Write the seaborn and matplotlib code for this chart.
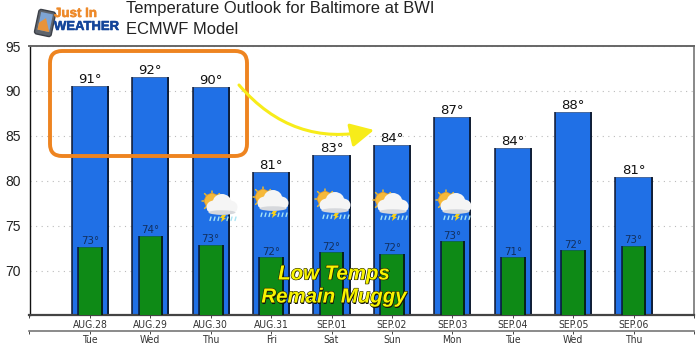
import matplotlib
matplotlib.use('Agg')
import matplotlib.pyplot as plt
import matplotlib.patheffects as pe
from matplotlib.patches import Circle, Ellipse, FancyArrowPatch, FancyBboxPatch, Polygon
from matplotlib.transforms import Affine2D
import numpy as np
import pandas as pd
import seaborn as sns

dates = ['AUG.28', 'AUG.29', 'AUG.30', 'AUG.31', 'SEP.01', 'SEP.02', 'SEP.03', 'SEP.04', 'SEP.05', 'SEP.06']
weekdays = ['Tue', 'Wed', 'Thu', 'Fri', 'Sat', 'Sun', 'Mon', 'Tue', 'Wed', 'Thu']
highs = [90.55, 91.6, 90.4, 81.0, 82.9, 84.0, 87.1, 83.7, 87.7, 80.4]
lows = [72.7, 73.9, 72.9, 71.5, 72.05, 71.9, 73.3, 71.5, 72.3, 72.8]
high_labels = ['91°', '92°', '90°', '81°', '83°', '84°', '87°', '84°', '88°', '81°']
low_labels = ['73°', '74°', '73°', '72°', '72°', '72°', '73°', '71°', '72°', '73°']
# cloud centres of the weather icons, in pixels
icons = [(222, 206), (273, 202), (335, 204), (393, 205), (456, 205)]

W, H = 700, 352
L, R, T, B = 29.5, 694, 46, 315

sns.set_theme(style='white')
plt.rcParams['font.family'] = ['Liberation Sans', 'DejaVu Sans']

df = pd.DataFrame({'date': dates, 'high': highs, 'low': lows})

fig = plt.figure(figsize=(7, 3.52), dpi=100, facecolor='white')
ax = fig.add_axes([L / W, 1 - B / H, (R - L) / W, (B - T) / H])
sns.barplot(data=df, x='date', y='high', color='#2070e6', saturation=1, width=0.6,
            edgecolor='#12305f', linewidth=0.4, ax=ax, zorder=2)
sns.barplot(data=df, x='date', y='low', color='#0e8a16', saturation=1, width=0.39,
            edgecolor='#0b5a20', linewidth=0.4, ax=ax, zorder=3)
ax.set_xlabel('')
ax.set_ylabel('')

# dark sides on the bars
for cont, z in zip(ax.containers, (2.5, 3.5)):
    for p in cont:
        x0 = p.get_x()
        x1 = x0 + p.get_width()
        top = p.get_height()
        ax.plot([x0, x0], [65.1, top], color='#0a1838', lw=1.1, zorder=z, solid_capstyle='butt')
        ax.plot([x1, x1], [65.1, top], color='#050a14', lw=1.1, zorder=z, solid_capstyle='butt')
ax.set_xlim(-1, 10)
ax.set_ylim(65.1, 95)

ax.bar_label(ax.containers[0], labels=high_labels, padding=0, fontsize=9.5,
             color='#111111', family='DejaVu Sans', zorder=5)
ax.bar_label(ax.containers[1], labels=low_labels, padding=0.5, fontsize=7.4,
             color='#12305f', family='DejaVu Sans', zorder=5)

ax.set_yticks([70, 75, 80, 85, 90, 95])
ax.tick_params(axis='y', left=False, length=0, pad=6.5, labelsize=10, labelcolor='#222222')
ax.yaxis.grid(True, linestyle=(0, (1, 4)), color='#bbbbbb', linewidth=0.8, zorder=0)
ax.set_axisbelow(True)

ax.set_xticks(np.arange(-1, 11))
ax.set_xticklabels([''] + dates + [''], family='DejaVu Sans', stretch='condensed', fontsize=7.5, color='#333333')
ax.tick_params(axis='x', bottom=True, length=2.5, width=0.7, color='#444444', pad=0.8)

ax.spines['left'].set(color='#111111', linewidth=1.0)
ax.spines['bottom'].set(color='#444444', linewidth=1.6)
ax.spines['top'].set(color='#666666', linewidth=1.4)
ax.spines['right'].set(color='#888888', linewidth=1.4)

sec = ax.secondary_xaxis(-(331 - B) / (B - T))
sec.set_xticks(np.arange(-1, 11))
sec.set_xticklabels([''] + weekdays + [''], family='DejaVu Sans', stretch='condensed', fontsize=7.5, color='#333333')
sec.tick_params(axis='x', length=2.5, width=0.7, color='#444444', pad=0.3)
sec.spines['bottom'].set(color='#777777', linewidth=1.2)

# overlay in pixel coordinates for the annotations drawn on top of the chart
ov = fig.add_axes([0, 0, 1, 1], facecolor='none')
ov.set_xlim(0, W)
ov.set_ylim(H, 0)
ov.axis('off')

ov.text(126, 9, 'Temperature Outlook for Baltimore at BWI', fontsize=11.9, color='#222222', va='center')
ov.text(126, 29, 'ECMWF Model', fontsize=11.9, color='#222222', va='center')

# logo
tilt = Affine2D().rotate_deg_around(45, 23, 12) + ov.transData
ov.add_patch(FancyBboxPatch((37, 11), 16, 24, boxstyle='round,pad=0.5,rounding_size=2.5', fc='#5f646c', ec='#3c4048',
                            lw=1, transform=tilt))
ov.add_patch(Polygon([[39, 13], [51, 13], [51, 31], [39, 31]], fc='#7ea4d4', ec='none', transform=tilt))
ov.add_patch(Polygon([[39, 31], [39, 24], [45, 18], [51, 31]], fc='#e8933a', ec='none', transform=tilt))
ov.text(54, 14, 'Just In', fontsize=9.6, fontweight='bold', color='#ee8a2a', va='center',
        path_effects=[pe.withStroke(linewidth=0.4, foreground='#ee8a2a')])
ov.text(54, 27, 'WEATHER', fontsize=9.4, fontweight='bold', color='#14459a', va='center',
        path_effects=[pe.withStroke(linewidth=0.4, foreground='#14459a')])


def weather_icon(cx, cy):
    sx, sy = cx - 10, cy - 5
    for a in np.arange(0, 360, 45):
        dx, dy = np.cos(np.radians(a)), np.sin(np.radians(a))
        ov.plot([sx + 7 * dx, sx + 10.5 * dx], [sy + 7 * dy, sy + 10.5 * dy], color='#e8b830', lw=1.1, zorder=6)
    ov.add_patch(Circle((sx, sy), 7.5, fc='#f6b93a', ec='#e59a28', lw=0.5, zorder=6))
    for dx, dy, w, h in [(-8, 1, 15, 13), (0, -3, 19, 18), (8, 1, 15, 13), (0, 3, 30, 11)]:
        ov.add_patch(Ellipse((cx + dx, cy + dy), w, h, fc='#f5f5f5', ec='none', zorder=7))
    ov.add_patch(Ellipse((cx, cy + 6.5), 27, 4.5, fc='#d6d8dc', ec='none', zorder=7))
    for dx in (-11, -7, -3, 6, 10, 14):
        ov.plot([cx + dx, cx + dx - 1], [cy + 11, cy + 14.5], color='#a8e4f4', lw=1, zorder=7)
    ov.add_patch(Polygon([[cx, cy + 9], [cx + 4, cy + 9], [cx + 2, cy + 12], [cx + 4, cy + 12], [cx - 1, cy + 16],
                          [cx, cy + 12], [cx - 2, cy + 12]], fc='#f4d020', ec='none', zorder=7))


for cx, cy in icons:
    weather_icon(cx, cy)

# orange box and yellow arrow
ov.add_patch(FancyBboxPatch((58, 59), 181, 89, boxstyle='round,pad=8,rounding_size=12', fc='none',
                            ec='#ee8420', lw=2.8, zorder=8))
ov.add_patch(FancyArrowPatch((239, 85), (374, 130), connectionstyle='arc3,rad=0.3',
                             arrowstyle='-|>,head_length=5.5,head_width=2.8', mutation_scale=2.6,
                             shrinkA=0, shrinkB=0, color='#f7ec1a', lw=2.2, zorder=8))

for txt, x, y in [('Low Temps', 334, 274), ('Remain Muggy', 334, 297)]:
    ov.text(x + 1, y + 1, txt, fontsize=14.7, fontweight='bold', fontstyle='italic', color='#111111',
            ha='center', va='center', zorder=9)
    ov.text(x, y, txt, fontsize=14.7, fontweight='bold', fontstyle='italic', color='#f8f400',
            ha='center', va='center', zorder=10,
            path_effects=[pe.withStroke(linewidth=0.8, foreground='#222200')])

fig.savefig('out.png', dpi=100)
